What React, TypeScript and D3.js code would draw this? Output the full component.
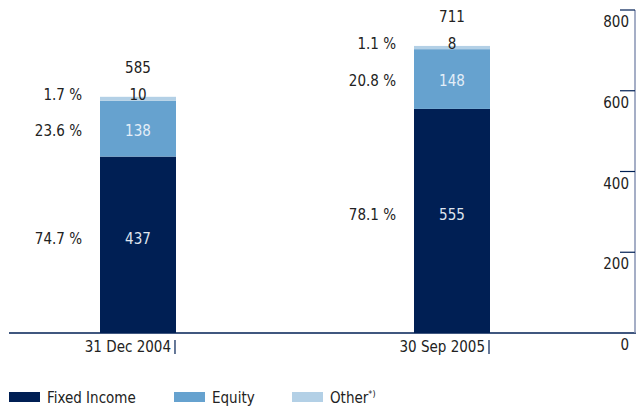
import * as d3 from "d3";

// Portfolio breakdown (EUR m) at two reporting dates
const categories = ["31 Dec 2004", "30 Sep 2005"];
const fixedIncome = [437, 555];
const equity = [138, 148];
const other = [10, 8];
const totals = [585, 711];
const fixedPct = ["74.7 %", "78.1 %"];
const equityPct = ["23.6 %", "20.8 %"];
const otherPct = ["1.7 %", "1.1 %"];
const yTicks = [0, 200, 400, 600, 800];

const W = 638;
const H = 410;
const BASE = 333;
const FONT = "'Liberation Sans Narrow', 'DejaVu Sans Condensed', sans-serif";
const INK = "#222";

const COLORS = { fixed: "#001f54", equity: "#66a2cf", other: "#b3d0e6" };
const LEGEND = [
  { label: "Fixed Income", color: COLORS.fixed, x: 9 },
  { label: "Equity", color: COLORS.equity, x: 174 },
  { label: "Other", color: COLORS.other, x: 292, sup: "*)" },
];

export default function App() {
  const x = d3.scaleBand<string>().domain(categories).range([100, 490]).paddingInner(0.758);
  const y = d3.scaleLinear().domain([0, 800]).range([BASE, 10]);
  const bw = x.bandwidth();

  const rows = categories.map((c, i) => {
    const f0 = 0, f1 = fixedIncome[i];
    const e1 = f1 + equity[i];
    const o1 = e1 + other[i];
    return { c, i, f0, f1, e1, o1 };
  });

  return (
    <svg
      width={W}
      height={H}
      style={{ position: "absolute", left: 0, top: 0, background: "#fff" }}
      fontFamily={FONT}
      fontSize={15}
    >
      {rows.map(({ c, i, f0, f1, e1, o1 }) => {
        const x0 = x(c)!;
        const cx = x0 + bw / 2;
        const px = x0 - 18;
        return (
          <g key={c}>
            <rect x={x0} width={bw} y={y(f1)} height={y(f0) - y(f1)} fill={COLORS.fixed} />
            <rect x={x0} width={bw} y={y(e1)} height={y(f1) - y(e1)} fill={COLORS.equity} />
            <rect x={x0} width={bw} y={y(o1)} height={y(e1) - y(o1)} fill={COLORS.other} />

            {/* segment values */}
            <text x={cx} y={(y(f0) + y(f1)) / 2 - 1} textAnchor="middle" fill="#dfe4ee">
              {fixedIncome[i]}
            </text>
            <text x={cx} y={(y(f1) + y(e1)) / 2 + 7} textAnchor="middle" fill="#e3eef8">
              {equity[i]}
            </text>
            <text x={cx} y={y(o1) + 3} textAnchor="middle" fill={INK}>
              {other[i]}
            </text>
            <text x={cx} y={y(o1) - 24} textAnchor="middle" fill={INK}>
              {totals[i]}
            </text>

            {/* shares */}
            <text x={px} y={(y(f0) + y(f1)) / 2 - 1} textAnchor="end" fill={INK}>
              {fixedPct[i]}
            </text>
            <text x={px} y={(y(f1) + y(e1)) / 2 + 7} textAnchor="end" fill={INK}>
              {equityPct[i]}
            </text>
            <text x={px} y={y(o1) + 3} textAnchor="end" fill={INK}>
              {otherPct[i]}
            </text>

            {/* category label with small marker */}
            <text x={x0 + bw - 5} y={BASE + 19} textAnchor="end" fill={INK}>
              {c}
            </text>
            <line x1={x0 + bw - 1} x2={x0 + bw - 1} y1={BASE + 7} y2={BASE + 21} stroke={COLORS.fixed} strokeWidth={1.2} />
          </g>
        );
      })}

      {/* baseline */}
      <line x1={9} x2={636} y1={BASE} y2={BASE} stroke={COLORS.fixed} strokeWidth={1.5} />

      {/* right value axis */}
      <line x1={635} x2={635} y1={y(800)} y2={BASE} stroke="#8793b3" strokeWidth={1.5} />
      {yTicks.map((t) => (
        <g key={t}>
          {t > 0 && (
            <line x1={620} x2={635} y1={y(t)} y2={y(t)} stroke={COLORS.fixed} strokeWidth={1.2} />
          )}
          <text x={629} y={y(t) + 17} textAnchor="end" fill={INK}>
            {t}
          </text>
        </g>
      ))}

      {/* legend */}
      {LEGEND.map((l) => (
        <g key={l.label}>
          <rect x={l.x} y={392} width={31} height={10} fill={l.color} />
          <text x={l.x + 38} y={403} fill={INK}>
            {l.label}
            {l.sup && (
              <tspan fontSize={9} dy={-6}>
                {l.sup}
              </tspan>
            )}
          </text>
        </g>
      ))}
    </svg>
  );
}
